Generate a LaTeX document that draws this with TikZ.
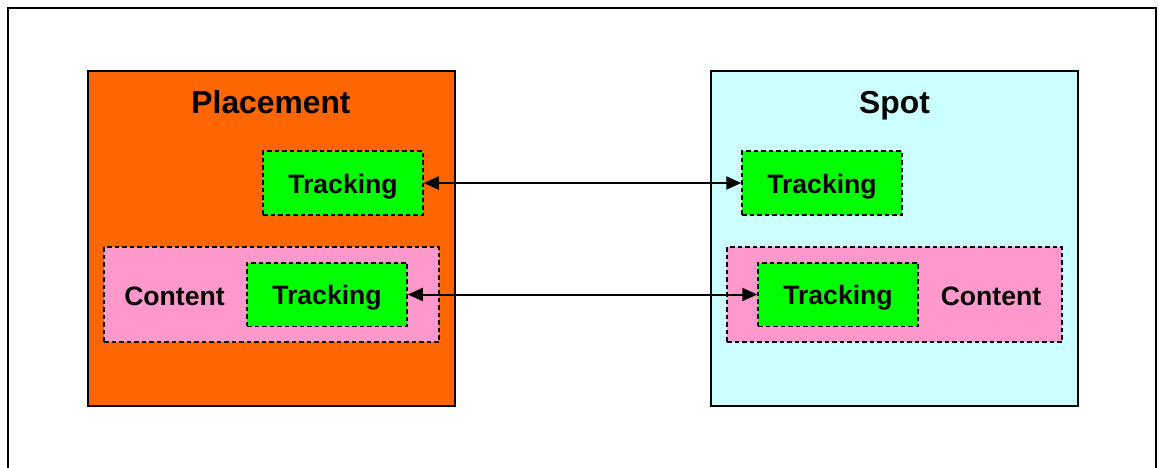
\documentclass[tikz,border=0pt]{standalone}
\usepackage{fontspec}
\setmainfont{Liberation Sans}
\usetikzlibrary{arrows.meta}
\definecolor{placeorange}{HTML}{FF6600}
\definecolor{spotcyan}{HTML}{CCFFFF}
\definecolor{trackgreen}{HTML}{00FF00}
\definecolor{contentpink}{HTML}{FF99CC}
\tikzset{
  bigbox/.style={draw=black, line width=2pt, minimum width=367pt, minimum height=335pt, inner sep=0pt},
  trackbox/.style={draw=black, fill=trackgreen, line width=1.5pt, dash pattern=on 4.5pt off 3pt, minimum width=160pt, minimum height=63.5pt, inner sep=0pt, text height=20pt, text depth=0pt, font=\fontsize{26.6}{30}\selectfont\bfseries},
  contentbox/.style={draw=black, fill=contentpink, line width=1.5pt, dash pattern=on 4.5pt off 3pt, minimum width=335pt, minimum height=95pt, inner sep=0pt},
  titletext/.style={font=\fontsize{31.8}{36}\selectfont\bfseries, inner sep=0pt, anchor=base},
  labeltext/.style={font=\fontsize{26.6}{30}\selectfont\bfseries, inner sep=0pt, anchor=base},
  link/.style={line width=2pt, {Triangle[length=15pt,width=13pt]}-{Triangle[length=15pt,width=13pt]}}
}
\begin{document}
\begin{tikzpicture}[x=1pt,y=-1pt]
\useasboundingbox (0,0) rectangle (1159,468);
\coordinate (f1) at (8,475);
\coordinate (f2) at (8,8);
\coordinate (f3) at (1156,8);
\coordinate (f4) at (1156,475);
\draw[line width=2pt] (f1) -- (f2) -- (f3) -- (f4);

\node[bigbox, fill=placeorange] (place) at (271.5,238.5) {};
\node[titletext] (placetitle) at (271,114) {Placement};
\node[trackbox] (ptrack) at (343,183) {Tracking};
\node[contentbox] (pcontent) at (271.5,294.5) {};
\node[labeltext] (pclabel) at (174.5,305) {Content};
\node[trackbox] (pctrack) at (327,294.5) {Tracking};

\node[bigbox, fill=spotcyan] (spot) at (894.5,238.5) {};
\node[titletext] (spottitle) at (894.5,114) {Spot};
\node[trackbox] (strack) at (822,183) {Tracking};
\node[contentbox] (scontent) at (894.5,294.5) {};
\node[labeltext] (sclabel) at (991,305) {Content};
\node[trackbox] (sctrack) at (838,294.5) {Tracking};

\draw[link] (ptrack.east) -- (strack.west);
\draw[link] (pctrack.east) -- (sctrack.west);
\end{tikzpicture}
\end{document}
